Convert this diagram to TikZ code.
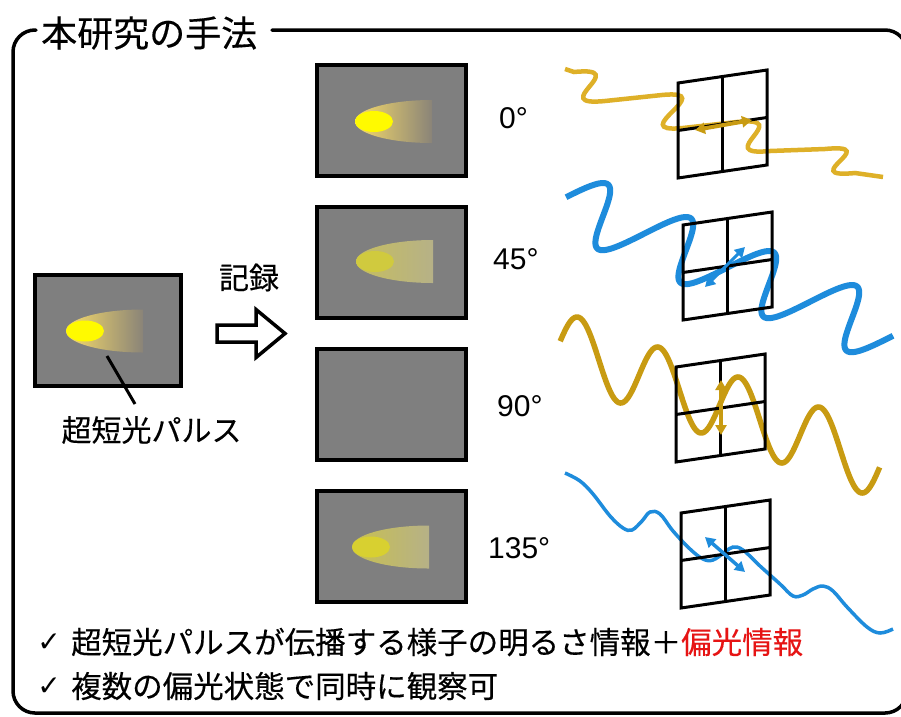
\documentclass[tikz,border=0pt]{standalone}
\usepackage{fontspec}
\setmainfont{Liberation Sans}
\newfontfamily\jpfont[FakeBold=0.3]{Noto Sans CJK JP}
\newfontfamily\symfont{DejaVu Sans}
\usetikzlibrary{arrows.meta}

\definecolor{panelgray}{RGB}{127,127,127}
\definecolor{goldA}{RGB}{222,176,40}
\definecolor{goldB}{RGB}{200,155,18}
\definecolor{waveblue}{RGB}{30,140,220}
\definecolor{alertred}{RGB}{230,20,20}
\definecolor{glowA}{RGB}{248,220,105}
\definecolor{glowAend}{RGB}{138,132,120}
\definecolor{coreA}{RGB}{255,250,0}
\definecolor{glowB}{RGB}{198,190,95}
\definecolor{glowBend}{RGB}{182,177,135}
\definecolor{coreB}{RGB}{208,202,62}
\definecolor{glowC}{RGB}{200,192,80}
\definecolor{coreC}{RGB}{216,208,48}

% Japanese text at a given size
\newcommand\jptext[2]{{\fontsize{#1}{#1}\selectfont\jpfont #2}}

% pulse: #1 right edge x, #2 centre y, #3/#4 halo gradient, #5 core colour
\newcommand\pulseshape[5]{%
  \begin{scope}
    \clip (#1,#2) ellipse[x radius=77, y radius=21.5];
    \shade[left color=#3, right color=#4] (#1-77,#2-22) rectangle (#1,#2+22);
  \end{scope}
  \fill[#5] (#1-58,#2) ellipse[x radius=19, y radius=10.5];
}

\tikzset{
  frameline/.style={line width=3.5pt, line cap=round},
  screen/.style={draw=black, fill=panelgray, line width=4.5pt},
  gridline/.style={draw=black, line width=3pt},
  jplabel/.style={inner sep=0pt},
  anglelabel/.style={inner sep=0pt, anchor=base west, font=\fontsize{30}{30}\selectfont},
  pol/.style={line width=#1, {Triangle[length=10pt,width=11pt]}-{Triangle[length=10pt,width=11pt]}},
  gridpanel/.pic={
    \draw[gridline] (0,0) -- (0,-95) -- (89,-108) -- (89,-13) -- cycle;
    \draw[gridline] (44.5,-6.5) -- (44.5,-101.5);
    \draw[gridline] (0,-47.5) -- (89,-60.5);
  },
}

\begin{document}
\begin{tikzpicture}[x=1pt, y=-1pt]
\useasboundingbox (0,0) rectangle (901,716);
\fill[white] (0,0) rectangle (901,716);

% outer frame with a gap for the heading
\draw[frameline, rounded corners=22pt] (36,30) -- (13,30) -- (13,713) -- (907,713) -- (907,30) -- (272,30);
\node[jplabel, anchor=west] (title) at (41,33) {\jptext{36}{本研究の手法}};

% source image of the pulse
\draw[screen] (35,275) rectangle (181,386);
\pulseshape{143}{331}{glowA}{glowAend}{coreA}
\coordinate (pulsetip) at (107,356);
\node[jplabel] (pulselabel) at (151.5,430) {\jptext{30}{超短光パルス}};
\coordinate (leaderend) at (135,404);
\draw[line width=3pt] (pulsetip) -- (leaderend);

% recording arrow
\node[jplabel] (record) at (249,277.5) {\jptext{30}{記録}};
\draw[line width=3.5pt, fill=white, line join=miter]
  (217,325) -- (256,325) -- (256,309.5) -- (285,333.5) -- (256,357.5) -- (256,342) -- (217,342) -- cycle;

% recorded images for four polarisation angles
\draw[screen] (317,65) rectangle (466,176);
\pulseshape{432}{121.5}{glowA}{glowAend}{coreA}
\draw[screen] (317,207) rectangle (466,318);
\pulseshape{433}{261.5}{glowB}{glowBend}{coreB}
\draw[screen] (317,349) rectangle (466,460);
\draw[screen] (317,491) rectangle (466,602);
\pulseshape{429}{547}{glowC}{glowBend}{coreC}

\node[anglelabel] (a0) at (499,128) {0°};
\node[anglelabel] (a45) at (493,269) {45°};
\node[anglelabel] (a90) at (497,416) {90°};
\node[anglelabel] (a135) at (488,558) {135°};

% waves
\draw[goldA, line width=4.5pt]
  (565,69) -- (574,72) .. controls (634,66) and (545,107) .. (605,101)
  -- (662,95) .. controls (722,89) and (623,134) .. (683,128)
  -- (737,122) .. controls (797,116) and (710,157) .. (770,151)
  -- (825,149) .. controls (885,143) and (795,179) .. (855,173)
  -- (883,177);
\draw[waveblue, line width=6pt]
  plot[domain=0.02:4, samples=240, variable=\t]
  ({561.3+83*\t+24.5*sin(360*\t)}, {199.6+34*\t-24.5*sin(360*\t)});
\draw[goldB, line width=5.5pt]
  plot[domain=0.02:3.99, samples=240, variable=\t]
  ({558.6+80.5*\t}, {345+30*\t-35.2*sin(360*\t)});
\draw[waveblue, line width=3.5pt] plot[smooth, tension=0.6] coordinates {
  (565,473) (580,481) (593,494) (610,516) (623,528) (632,530) (642,521) (650,512)
  (660,514) (673,531) (690,549) (703,559) (713,560) (725,552) (733,547) (743,550)
  (760,566) (780,584) (793,596) (803,595) (813,589) (823,586) (833,591) (847,607)
  (867,627) (880,633) (893,629)};

% polariser grids
\pic at (678,178) {gridpanel};
\pic at (683,320) {gridpanel};
\pic at (676,462) {gridpanel};
\pic at (681,608) {gridpanel};

% polarisation directions
\coordinate (p0a) at (695,130); \coordinate (p0b) at (752,120);
\draw[goldB, pol=4pt] (p0a) -- (p0b);
\coordinate (p45a) at (705,287); \coordinate (p45b) at (745,247);
\draw[waveblue, pol=3pt] (p45a) -- (p45b);
\coordinate (p90a) at (721,380); \coordinate (p90b) at (721,435);
\draw[goldB, pol=3.5pt] (p90a) -- (p90b);
\coordinate (p135a) at (705,537); \coordinate (p135b) at (745,572);
\draw[waveblue, pol=3.5pt] (p135a) -- (p135b);

% summary
\node[jplabel] (check1) at (49,643) {\fontsize{28}{28}\selectfont\symfont ✓};
\node[jplabel, anchor=west] (line1) at (71,642)
  {\jptext{30.5}{超短光パルスが伝播する様子の明るさ情報＋\textcolor{alertred}{偏光情報}}};
\node[jplabel] (check2) at (49,687) {\fontsize{28}{28}\selectfont\symfont ✓};
\node[jplabel, anchor=west] (line2) at (71,686)
  {\jptext{30.5}{複数の偏光状態で同時に観察可}};
\end{tikzpicture}
\end{document}
